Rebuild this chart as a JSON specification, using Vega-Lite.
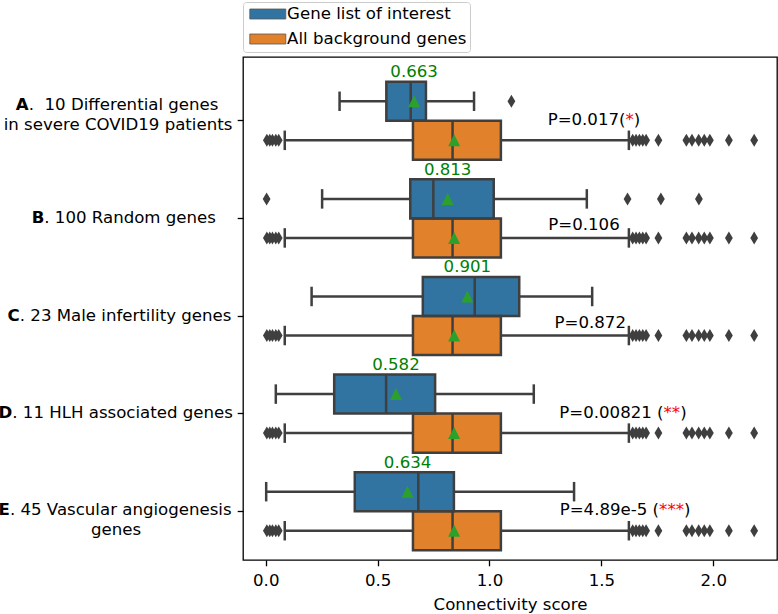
{
  "$schema": "https://vega.github.io/schema/vega-lite/v6.json",
  "width": 534,
  "height": 503,
  "autosize": {"type": "none"},
  "padding": {"left": 243, "top": 57, "right": 1, "bottom": 54},
  "background": "white",
  "config": {
    "font": "DejaVu Sans",
    "view": {"stroke": "black", "strokeWidth": 1.3},
    "axisX": {"grid": false, "domain": false, "tickColor": "black", "tickWidth": 1.3, "tickSize": 5.8, "tickCount": 5, "labelFlush": false, "labelFont": "DejaVu Sans", "labelFontSize": 16.6, "labelColor": "black", "labelPadding": 6.6, "titleFont": "DejaVu Sans", "titleFontSize": 16.6, "titleFontWeight": "normal", "titleColor": "black", "titlePadding": 7}
  },
  "datasets": {
    "boxes": [
      {"category": "A. \u00a010 Differential genes|in severe COVID19 patients", "group": "Gene list of interest", "lo": 0.330, "q1": 0.539, "med": 0.648, "q3": 0.716, "hi": 0.931, "mean": 0.663},
      {"category": "A. \u00a010 Differential genes|in severe COVID19 patients", "group": "All background genes", "lo": 0.085, "q1": 0.658, "med": 0.835, "q3": 1.051, "hi": 1.623, "mean": 0.842},
      {"category": "B. 100 Random genes", "group": "Gene list of interest", "lo": 0.252, "q1": 0.646, "med": 0.749, "q3": 1.019, "hi": 1.435, "mean": 0.813},
      {"category": "B. 100 Random genes", "group": "All background genes", "lo": 0.085, "q1": 0.658, "med": 0.835, "q3": 1.051, "hi": 1.623, "mean": 0.842},
      {"category": "C. 23 Male infertility genes", "group": "Gene list of interest", "lo": 0.205, "q1": 0.702, "med": 0.934, "q3": 1.133, "hi": 1.459, "mean": 0.901},
      {"category": "C. 23 Male infertility genes", "group": "All background genes", "lo": 0.085, "q1": 0.658, "med": 0.835, "q3": 1.051, "hi": 1.623, "mean": 0.842},
      {"category": "D. 11 HLH associated genes", "group": "Gene list of interest", "lo": 0.045, "q1": 0.306, "med": 0.538, "q3": 0.757, "hi": 1.198, "mean": 0.582},
      {"category": "D. 11 HLH associated genes", "group": "All background genes", "lo": 0.085, "q1": 0.658, "med": 0.835, "q3": 1.051, "hi": 1.623, "mean": 0.842},
      {"category": "E. 45 Vascular angiogenesis|genes", "group": "Gene list of interest", "lo": 0.002, "q1": 0.398, "med": 0.682, "q3": 0.841, "hi": 1.378, "mean": 0.634},
      {"category": "E. 45 Vascular angiogenesis|genes", "group": "All background genes", "lo": 0.085, "q1": 0.658, "med": 0.835, "q3": 1.051, "hi": 1.623, "mean": 0.842}
    ],
    "fliers": [
      {"category": "A. \u00a010 Differential genes|in severe COVID19 patients", "group": "Gene list of interest", "value": 1.098},
      {"category": "B. 100 Random genes", "group": "Gene list of interest", "value": 0.004},
      {"category": "B. 100 Random genes", "group": "Gene list of interest", "value": 1.617},
      {"category": "B. 100 Random genes", "group": "Gene list of interest", "value": 1.766},
      {"category": "B. 100 Random genes", "group": "Gene list of interest", "value": 1.936},
      {"category": "A. \u00a010 Differential genes|in severe COVID19 patients", "group": "All background genes", "value": 0.005},
      {"category": "A. \u00a010 Differential genes|in severe COVID19 patients", "group": "All background genes", "value": 0.018},
      {"category": "A. \u00a010 Differential genes|in severe COVID19 patients", "group": "All background genes", "value": 0.030},
      {"category": "A. \u00a010 Differential genes|in severe COVID19 patients", "group": "All background genes", "value": 0.045},
      {"category": "A. \u00a010 Differential genes|in severe COVID19 patients", "group": "All background genes", "value": 0.058},
      {"category": "A. \u00a010 Differential genes|in severe COVID19 patients", "group": "All background genes", "value": 1.640},
      {"category": "A. \u00a010 Differential genes|in severe COVID19 patients", "group": "All background genes", "value": 1.655},
      {"category": "A. \u00a010 Differential genes|in severe COVID19 patients", "group": "All background genes", "value": 1.670},
      {"category": "A. \u00a010 Differential genes|in severe COVID19 patients", "group": "All background genes", "value": 1.685},
      {"category": "A. \u00a010 Differential genes|in severe COVID19 patients", "group": "All background genes", "value": 1.700},
      {"category": "A. \u00a010 Differential genes|in severe COVID19 patients", "group": "All background genes", "value": 1.755},
      {"category": "A. \u00a010 Differential genes|in severe COVID19 patients", "group": "All background genes", "value": 1.880},
      {"category": "A. \u00a010 Differential genes|in severe COVID19 patients", "group": "All background genes", "value": 1.905},
      {"category": "A. \u00a010 Differential genes|in severe COVID19 patients", "group": "All background genes", "value": 1.935},
      {"category": "A. \u00a010 Differential genes|in severe COVID19 patients", "group": "All background genes", "value": 1.960},
      {"category": "A. \u00a010 Differential genes|in severe COVID19 patients", "group": "All background genes", "value": 1.985},
      {"category": "A. \u00a010 Differential genes|in severe COVID19 patients", "group": "All background genes", "value": 2.070},
      {"category": "A. \u00a010 Differential genes|in severe COVID19 patients", "group": "All background genes", "value": 2.183},
      {"category": "B. 100 Random genes", "group": "All background genes", "value": 0.005},
      {"category": "B. 100 Random genes", "group": "All background genes", "value": 0.018},
      {"category": "B. 100 Random genes", "group": "All background genes", "value": 0.030},
      {"category": "B. 100 Random genes", "group": "All background genes", "value": 0.045},
      {"category": "B. 100 Random genes", "group": "All background genes", "value": 0.058},
      {"category": "B. 100 Random genes", "group": "All background genes", "value": 1.640},
      {"category": "B. 100 Random genes", "group": "All background genes", "value": 1.655},
      {"category": "B. 100 Random genes", "group": "All background genes", "value": 1.670},
      {"category": "B. 100 Random genes", "group": "All background genes", "value": 1.685},
      {"category": "B. 100 Random genes", "group": "All background genes", "value": 1.700},
      {"category": "B. 100 Random genes", "group": "All background genes", "value": 1.755},
      {"category": "B. 100 Random genes", "group": "All background genes", "value": 1.880},
      {"category": "B. 100 Random genes", "group": "All background genes", "value": 1.905},
      {"category": "B. 100 Random genes", "group": "All background genes", "value": 1.935},
      {"category": "B. 100 Random genes", "group": "All background genes", "value": 1.960},
      {"category": "B. 100 Random genes", "group": "All background genes", "value": 1.985},
      {"category": "B. 100 Random genes", "group": "All background genes", "value": 2.070},
      {"category": "B. 100 Random genes", "group": "All background genes", "value": 2.183},
      {"category": "C. 23 Male infertility genes", "group": "All background genes", "value": 0.005},
      {"category": "C. 23 Male infertility genes", "group": "All background genes", "value": 0.018},
      {"category": "C. 23 Male infertility genes", "group": "All background genes", "value": 0.030},
      {"category": "C. 23 Male infertility genes", "group": "All background genes", "value": 0.045},
      {"category": "C. 23 Male infertility genes", "group": "All background genes", "value": 0.058},
      {"category": "C. 23 Male infertility genes", "group": "All background genes", "value": 1.640},
      {"category": "C. 23 Male infertility genes", "group": "All background genes", "value": 1.655},
      {"category": "C. 23 Male infertility genes", "group": "All background genes", "value": 1.670},
      {"category": "C. 23 Male infertility genes", "group": "All background genes", "value": 1.685},
      {"category": "C. 23 Male infertility genes", "group": "All background genes", "value": 1.700},
      {"category": "C. 23 Male infertility genes", "group": "All background genes", "value": 1.755},
      {"category": "C. 23 Male infertility genes", "group": "All background genes", "value": 1.880},
      {"category": "C. 23 Male infertility genes", "group": "All background genes", "value": 1.905},
      {"category": "C. 23 Male infertility genes", "group": "All background genes", "value": 1.935},
      {"category": "C. 23 Male infertility genes", "group": "All background genes", "value": 1.960},
      {"category": "C. 23 Male infertility genes", "group": "All background genes", "value": 1.985},
      {"category": "C. 23 Male infertility genes", "group": "All background genes", "value": 2.070},
      {"category": "C. 23 Male infertility genes", "group": "All background genes", "value": 2.183},
      {"category": "D. 11 HLH associated genes", "group": "All background genes", "value": 0.005},
      {"category": "D. 11 HLH associated genes", "group": "All background genes", "value": 0.018},
      {"category": "D. 11 HLH associated genes", "group": "All background genes", "value": 0.030},
      {"category": "D. 11 HLH associated genes", "group": "All background genes", "value": 0.045},
      {"category": "D. 11 HLH associated genes", "group": "All background genes", "value": 0.058},
      {"category": "D. 11 HLH associated genes", "group": "All background genes", "value": 1.640},
      {"category": "D. 11 HLH associated genes", "group": "All background genes", "value": 1.655},
      {"category": "D. 11 HLH associated genes", "group": "All background genes", "value": 1.670},
      {"category": "D. 11 HLH associated genes", "group": "All background genes", "value": 1.685},
      {"category": "D. 11 HLH associated genes", "group": "All background genes", "value": 1.700},
      {"category": "D. 11 HLH associated genes", "group": "All background genes", "value": 1.755},
      {"category": "D. 11 HLH associated genes", "group": "All background genes", "value": 1.880},
      {"category": "D. 11 HLH associated genes", "group": "All background genes", "value": 1.905},
      {"category": "D. 11 HLH associated genes", "group": "All background genes", "value": 1.935},
      {"category": "D. 11 HLH associated genes", "group": "All background genes", "value": 1.960},
      {"category": "D. 11 HLH associated genes", "group": "All background genes", "value": 1.985},
      {"category": "D. 11 HLH associated genes", "group": "All background genes", "value": 2.070},
      {"category": "D. 11 HLH associated genes", "group": "All background genes", "value": 2.183},
      {"category": "E. 45 Vascular angiogenesis|genes", "group": "All background genes", "value": 0.005},
      {"category": "E. 45 Vascular angiogenesis|genes", "group": "All background genes", "value": 0.018},
      {"category": "E. 45 Vascular angiogenesis|genes", "group": "All background genes", "value": 0.030},
      {"category": "E. 45 Vascular angiogenesis|genes", "group": "All background genes", "value": 0.045},
      {"category": "E. 45 Vascular angiogenesis|genes", "group": "All background genes", "value": 0.058},
      {"category": "E. 45 Vascular angiogenesis|genes", "group": "All background genes", "value": 1.640},
      {"category": "E. 45 Vascular angiogenesis|genes", "group": "All background genes", "value": 1.655},
      {"category": "E. 45 Vascular angiogenesis|genes", "group": "All background genes", "value": 1.670},
      {"category": "E. 45 Vascular angiogenesis|genes", "group": "All background genes", "value": 1.685},
      {"category": "E. 45 Vascular angiogenesis|genes", "group": "All background genes", "value": 1.700},
      {"category": "E. 45 Vascular angiogenesis|genes", "group": "All background genes", "value": 1.755},
      {"category": "E. 45 Vascular angiogenesis|genes", "group": "All background genes", "value": 1.880},
      {"category": "E. 45 Vascular angiogenesis|genes", "group": "All background genes", "value": 1.905},
      {"category": "E. 45 Vascular angiogenesis|genes", "group": "All background genes", "value": 1.935},
      {"category": "E. 45 Vascular angiogenesis|genes", "group": "All background genes", "value": 1.960},
      {"category": "E. 45 Vascular angiogenesis|genes", "group": "All background genes", "value": 1.985},
      {"category": "E. 45 Vascular angiogenesis|genes", "group": "All background genes", "value": 2.070},
      {"category": "E. 45 Vascular angiogenesis|genes", "group": "All background genes", "value": 2.183}
    ],
    "pvals": [
      {"category": "A. \u00a010 Differential genes|in severe COVID19 patients", "prefix": "P=0.017(", "stars": "*", "suffix": ")", "x": 1.608},
      {"category": "B. 100 Random genes", "prefix": "P=0.106", "stars": "", "suffix": "", "x": 1.582},
      {"category": "C. 23 Male infertility genes", "prefix": "P=0.872", "stars": "", "suffix": "", "x": 1.610},
      {"category": "D. 11 HLH associated genes", "prefix": "P=0.00821 (", "stars": "**", "suffix": ")", "x": 1.778},
      {"category": "E. 45 Vascular angiogenesis|genes", "prefix": "P=4.89e-5 (", "stars": "***", "suffix": ")", "x": 1.758}
    ]
  },
  "resolve": {"axis": {"y": "independent"}},
  "layer": [
    {
      "data": {"name": "boxes"},
      "mark": {"type": "rule", "color": "#3f3f3f", "strokeWidth": 2.5},
      "encoding": {
        "x": {"field": "lo", "type": "quantitative", "title": "Connectivity score", "scale": {"domain": [-0.1016, 2.285], "nice": false, "zero": false}},
        "x2": {"field": "hi"},
        "y": {"field": "category", "type": "nominal", "sort": null, "scale": {"domain": ["A. \u00a010 Differential genes|in severe COVID19 patients", "B. 100 Random genes", "C. 23 Male infertility genes", "D. 11 HLH associated genes", "E. 45 Vascular angiogenesis|genes"], "range": [15, 503], "paddingInner": 0, "paddingOuter": 0},
          "axis": {"orient": "left", "title": null, "labels": false, "ticks": true, "tickSize": 5.8, "tickWidth": 1.3, "tickColor": "black", "domain": false, "grid": false}},
        "yOffset": {"field": "group", "type": "nominal", "scale": {"domain": ["Gene list of interest", "All background genes"], "paddingInner": 0, "paddingOuter": 0.25}}
      }
    },
    {
      "data": {"name": "boxes"},
      "mark": {"type": "tick", "orient": "vertical", "color": "#3f3f3f", "size": 19.5, "thickness": 2.5, "opacity": 1},
      "encoding": {
        "x": {"field": "lo", "type": "quantitative", "title": "Connectivity score", "scale": {"domain": [-0.1016, 2.285], "nice": false, "zero": false}},
        "y": {"field": "category", "type": "nominal", "sort": null, "scale": {"domain": ["A. \u00a010 Differential genes|in severe COVID19 patients", "B. 100 Random genes", "C. 23 Male infertility genes", "D. 11 HLH associated genes", "E. 45 Vascular angiogenesis|genes"], "range": [15, 503], "paddingInner": 0, "paddingOuter": 0},
          "axis": {"orient": "left", "title": null, "domain": false, "ticks": false, "tickSize": 0, "grid": false, "labelOverlap": false, "labelLimit": 400, "labelFont": "DejaVu Sans", "labelFontSize": 16.6, "labelColor": "black", "labelFontWeight": "bold", "labelAlign": "right", "labelBaseline": "alphabetic",
            "labelExpr": "substring(datum.value, 0, 1)",
            "labelPadding": {"expr": "substring(datum.value,0,1)=='A' ? 214.8 : substring(datum.value,0,1)=='B' ? 199.2 : substring(datum.value,0,1)=='C' ? 223.7 : substring(datum.value,0,1)=='D' ? 231.2 : 233.6"},
            "labelOffset": {"expr": "substring(datum.value,0,1)=='A' ? -11 : substring(datum.value,0,1)=='E' ? 3.5 : 4.5"}}},
        "yOffset": {"field": "group", "type": "nominal", "scale": {"domain": ["Gene list of interest", "All background genes"], "paddingInner": 0, "paddingOuter": 0.25}}
      }
    },
    {
      "data": {"name": "boxes"},
      "mark": {"type": "tick", "orient": "vertical", "color": "#3f3f3f", "size": 19.5, "thickness": 2.5, "opacity": 1},
      "encoding": {
        "x": {"field": "hi", "type": "quantitative", "title": "Connectivity score", "scale": {"domain": [-0.1016, 2.285], "nice": false, "zero": false}},
        "y": {"field": "category", "type": "nominal", "sort": null, "scale": {"domain": ["A. \u00a010 Differential genes|in severe COVID19 patients", "B. 100 Random genes", "C. 23 Male infertility genes", "D. 11 HLH associated genes", "E. 45 Vascular angiogenesis|genes"], "range": [15, 503], "paddingInner": 0, "paddingOuter": 0},
          "axis": {"orient": "left", "title": null, "domain": false, "ticks": false, "tickSize": 0, "grid": false, "labelOverlap": false, "labelLimit": 400, "labelFont": "DejaVu Sans", "labelFontSize": 16.6, "labelColor": "black", "labelAlign": "left", "labelBaseline": "alphabetic",
            "labelExpr": "substring(split(datum.value, '|')[0], 1)",
            "labelPadding": {"expr": "substring(datum.value,0,1)=='A' ? 214.8 : substring(datum.value,0,1)=='B' ? 199.2 : substring(datum.value,0,1)=='C' ? 223.7 : substring(datum.value,0,1)=='D' ? 231.2 : 233.6"},
            "labelOffset": {"expr": "substring(datum.value,0,1)=='A' ? -11 : substring(datum.value,0,1)=='E' ? 3.5 : 4.5"}}},
        "yOffset": {"field": "group", "type": "nominal", "scale": {"domain": ["Gene list of interest", "All background genes"], "paddingInner": 0, "paddingOuter": 0.25}}
      }
    },
    {
      "data": {"name": "boxes"},
      "mark": {"type": "bar", "opacity": 1},
      "encoding": {
        "x": {"field": "q1", "type": "quantitative", "title": "Connectivity score", "scale": {"domain": [-0.1016, 2.285], "nice": false, "zero": false}},
        "x2": {"field": "q3"},
        "y": {"field": "category", "type": "nominal", "sort": null, "scale": {"domain": ["A. \u00a010 Differential genes|in severe COVID19 patients", "B. 100 Random genes", "C. 23 Male infertility genes", "D. 11 HLH associated genes", "E. 45 Vascular angiogenesis|genes"], "range": [15, 503], "paddingInner": 0, "paddingOuter": 0},
          "axis": {"orient": "left", "title": null, "domain": false, "ticks": false, "tickSize": 0, "grid": false, "labelOverlap": false, "labelLimit": 400, "labelFont": "DejaVu Sans", "labelFontSize": 16.6, "labelColor": "black", "labelAlign": "center", "labelBaseline": "alphabetic",
            "labelExpr": "indexof(datum.value, '|') >= 0 ? split(datum.value, '|')[1] : ''",
            "labelPadding": {"expr": "substring(datum.value,0,1)=='A' ? 125.5 : 127.5"},
            "labelOffset": {"expr": "substring(datum.value,0,1)=='A' ? 9 : 23.5"}}},
        "yOffset": {"field": "group", "type": "nominal", "scale": {"domain": ["Gene list of interest", "All background genes"], "paddingInner": 0, "paddingOuter": 0.25}},
        "color": {"field": "group", "type": "nominal", "scale": {"domain": ["Gene list of interest", "All background genes"], "range": ["#3274a1", "#e1812c"]},
          "legend": {"orient": "none", "legendX": 0, "legendY": -55, "title": null, "direction": "vertical", "symbolType": "M-2.25,-0.625H2.25V0.625H-2.25Z", "symbolSize": 256, "symbolStrokeWidth": 0.8, "symbolStrokeColor": "#555555", "symbolOpacity": 1, "labelFont": "DejaVu Sans", "labelFontSize": 16.6, "labelColor": "black", "labelLimit": 400, "padding": 3.5, "rowPadding": 7, "symbolOffset": 12.8, "labelOffset": 10.8, "strokeColor": "#cccccc", "fillColor": "white", "cornerRadius": 3}}
      }
    },
    {
      "data": {"name": "boxes"},
      "mark": {"type": "bar", "filled": false, "color": "#3f3f3f", "strokeWidth": 2.5, "opacity": 1},
      "encoding": {
        "x": {"field": "q1", "type": "quantitative", "title": "Connectivity score", "scale": {"domain": [-0.1016, 2.285], "nice": false, "zero": false}},
        "x2": {"field": "q3"},
        "y": {"field": "category", "type": "nominal", "sort": null, "scale": {"domain": ["A. \u00a010 Differential genes|in severe COVID19 patients", "B. 100 Random genes", "C. 23 Male infertility genes", "D. 11 HLH associated genes", "E. 45 Vascular angiogenesis|genes"], "range": [15, 503], "paddingInner": 0, "paddingOuter": 0}, "axis": null},
        "yOffset": {"field": "group", "type": "nominal", "scale": {"domain": ["Gene list of interest", "All background genes"], "paddingInner": 0, "paddingOuter": 0.25}}
      }
    },
    {
      "data": {"name": "boxes"},
      "mark": {"type": "tick", "orient": "vertical", "color": "#3f3f3f", "size": 39, "thickness": 2.5, "opacity": 1},
      "encoding": {
        "x": {"field": "med", "type": "quantitative", "title": "Connectivity score", "scale": {"domain": [-0.1016, 2.285], "nice": false, "zero": false}},
        "y": {"field": "category", "type": "nominal", "sort": null, "scale": {"domain": ["A. \u00a010 Differential genes|in severe COVID19 patients", "B. 100 Random genes", "C. 23 Male infertility genes", "D. 11 HLH associated genes", "E. 45 Vascular angiogenesis|genes"], "range": [15, 503], "paddingInner": 0, "paddingOuter": 0}, "axis": null},
        "yOffset": {"field": "group", "type": "nominal", "scale": {"domain": ["Gene list of interest", "All background genes"], "paddingInner": 0, "paddingOuter": 0.25}}
      }
    },
    {
      "data": {"name": "boxes"},
      "mark": {"type": "point", "shape": "M0,-1L1,1L-1,1Z", "filled": true, "color": "#2ca02c", "size": 144, "opacity": 1, "strokeWidth": 0},
      "encoding": {
        "x": {"field": "mean", "type": "quantitative", "title": "Connectivity score", "scale": {"domain": [-0.1016, 2.285], "nice": false, "zero": false}},
        "y": {"field": "category", "type": "nominal", "sort": null, "scale": {"domain": ["A. \u00a010 Differential genes|in severe COVID19 patients", "B. 100 Random genes", "C. 23 Male infertility genes", "D. 11 HLH associated genes", "E. 45 Vascular angiogenesis|genes"], "range": [15, 503], "paddingInner": 0, "paddingOuter": 0}, "axis": null},
        "yOffset": {"field": "group", "type": "nominal", "scale": {"domain": ["Gene list of interest", "All background genes"], "paddingInner": 0, "paddingOuter": 0.25}}
      }
    },
    {
      "data": {"name": "fliers"},
      "mark": {"type": "point", "shape": "M0,-1L0.6,0L0,1L-0.6,0Z", "filled": true, "color": "#3f3f3f", "size": 169, "opacity": 1, "strokeWidth": 0},
      "encoding": {
        "x": {"field": "value", "type": "quantitative", "title": "Connectivity score", "scale": {"domain": [-0.1016, 2.285], "nice": false, "zero": false}},
        "y": {"field": "category", "type": "nominal", "sort": null, "scale": {"domain": ["A. \u00a010 Differential genes|in severe COVID19 patients", "B. 100 Random genes", "C. 23 Male infertility genes", "D. 11 HLH associated genes", "E. 45 Vascular angiogenesis|genes"], "range": [15, 503], "paddingInner": 0, "paddingOuter": 0}, "axis": null},
        "yOffset": {"field": "group", "type": "nominal", "scale": {"domain": ["Gene list of interest", "All background genes"], "paddingInner": 0, "paddingOuter": 0.25}}
      }
    },
    {
      "data": {"name": "boxes"},
      "transform": [{"filter": "datum.group == 'Gene list of interest'"}],
      "mark": {"type": "text", "font": "DejaVu Sans", "fontSize": 16.6, "color": "#008000", "align": "center", "baseline": "alphabetic", "dy": -24},
      "encoding": {
        "x": {"field": "mean", "type": "quantitative", "title": "Connectivity score", "scale": {"domain": [-0.1016, 2.285], "nice": false, "zero": false}},
        "y": {"field": "category", "type": "nominal", "sort": null, "scale": {"domain": ["A. \u00a010 Differential genes|in severe COVID19 patients", "B. 100 Random genes", "C. 23 Male infertility genes", "D. 11 HLH associated genes", "E. 45 Vascular angiogenesis|genes"], "range": [15, 503], "paddingInner": 0, "paddingOuter": 0}, "axis": null},
        "yOffset": {"field": "group", "type": "nominal", "scale": {"domain": ["Gene list of interest", "All background genes"], "paddingInner": 0, "paddingOuter": 0.25}},
        "text": {"field": "mean", "type": "quantitative", "format": ".3f"}
      }
    },
    {
      "data": {"name": "pvals"},
      "transform": [{"filter": "datum.stars != ''"}],
      "mark": {"type": "text", "font": "DejaVu Sans", "fontSize": 16.6, "color": "black", "align": "right", "baseline": "alphabetic", "dy": 4},
      "encoding": {
        "x": {"field": "x", "type": "quantitative", "title": "Connectivity score", "scale": {"domain": [-0.1016, 2.285], "nice": false, "zero": false}},
        "y": {"field": "category", "type": "nominal", "sort": null, "scale": {"domain": ["A. \u00a010 Differential genes|in severe COVID19 patients", "B. 100 Random genes", "C. 23 Male infertility genes", "D. 11 HLH associated genes", "E. 45 Vascular angiogenesis|genes"], "range": [15, 503], "paddingInner": 0, "paddingOuter": 0}, "axis": null},
        "text": {"field": "prefix"}
      }
    },
    {
      "data": {"name": "pvals"},
      "transform": [{"filter": "datum.stars == ''"}],
      "mark": {"type": "text", "font": "DejaVu Sans", "fontSize": 16.6, "color": "black", "align": "right", "baseline": "alphabetic", "dy": 11.5},
      "encoding": {
        "x": {"field": "x", "type": "quantitative", "title": "Connectivity score", "scale": {"domain": [-0.1016, 2.285], "nice": false, "zero": false}},
        "y": {"field": "category", "type": "nominal", "sort": null, "scale": {"domain": ["A. \u00a010 Differential genes|in severe COVID19 patients", "B. 100 Random genes", "C. 23 Male infertility genes", "D. 11 HLH associated genes", "E. 45 Vascular angiogenesis|genes"], "range": [15, 503], "paddingInner": 0, "paddingOuter": 0}, "axis": null},
        "text": {"field": "prefix"}
      }
    },
    {
      "data": {"name": "pvals"},
      "transform": [{"filter": "datum.stars != ''"}],
      "mark": {"type": "text", "font": "DejaVu Sans", "fontSize": 16.6, "color": "#ff0000", "align": "left", "baseline": "alphabetic", "dy": 4},
      "encoding": {
        "x": {"field": "x", "type": "quantitative", "title": "Connectivity score", "scale": {"domain": [-0.1016, 2.285], "nice": false, "zero": false}},
        "y": {"field": "category", "type": "nominal", "sort": null, "scale": {"domain": ["A. \u00a010 Differential genes|in severe COVID19 patients", "B. 100 Random genes", "C. 23 Male infertility genes", "D. 11 HLH associated genes", "E. 45 Vascular angiogenesis|genes"], "range": [15, 503], "paddingInner": 0, "paddingOuter": 0}, "axis": null},
        "text": {"field": "stars"}
      }
    },
    {
      "data": {"name": "pvals"},
      "transform": [{"filter": "datum.stars == '*'"}],
      "mark": {"type": "text", "font": "DejaVu Sans", "fontSize": 16.6, "color": "black", "align": "left", "baseline": "alphabetic", "dy": 4, "dx": 8.3},
      "encoding": {
        "x": {"field": "x", "type": "quantitative", "title": "Connectivity score", "scale": {"domain": [-0.1016, 2.285], "nice": false, "zero": false}},
        "y": {"field": "category", "type": "nominal", "sort": null, "scale": {"domain": ["A. \u00a010 Differential genes|in severe COVID19 patients", "B. 100 Random genes", "C. 23 Male infertility genes", "D. 11 HLH associated genes", "E. 45 Vascular angiogenesis|genes"], "range": [15, 503], "paddingInner": 0, "paddingOuter": 0}, "axis": null},
        "text": {"field": "suffix"}
      }
    },
    {
      "data": {"name": "pvals"},
      "transform": [{"filter": "datum.stars == '**'"}],
      "mark": {"type": "text", "font": "DejaVu Sans", "fontSize": 16.6, "color": "black", "align": "left", "baseline": "alphabetic", "dy": 4, "dx": 16.6},
      "encoding": {
        "x": {"field": "x", "type": "quantitative", "title": "Connectivity score", "scale": {"domain": [-0.1016, 2.285], "nice": false, "zero": false}},
        "y": {"field": "category", "type": "nominal", "sort": null, "scale": {"domain": ["A. \u00a010 Differential genes|in severe COVID19 patients", "B. 100 Random genes", "C. 23 Male infertility genes", "D. 11 HLH associated genes", "E. 45 Vascular angiogenesis|genes"], "range": [15, 503], "paddingInner": 0, "paddingOuter": 0}, "axis": null},
        "text": {"field": "suffix"}
      }
    },
    {
      "data": {"name": "pvals"},
      "transform": [{"filter": "datum.stars == '***'"}],
      "mark": {"type": "text", "font": "DejaVu Sans", "fontSize": 16.6, "color": "black", "align": "left", "baseline": "alphabetic", "dy": 4, "dx": 24.9},
      "encoding": {
        "x": {"field": "x", "type": "quantitative", "title": "Connectivity score", "scale": {"domain": [-0.1016, 2.285], "nice": false, "zero": false}},
        "y": {"field": "category", "type": "nominal", "sort": null, "scale": {"domain": ["A. \u00a010 Differential genes|in severe COVID19 patients", "B. 100 Random genes", "C. 23 Male infertility genes", "D. 11 HLH associated genes", "E. 45 Vascular angiogenesis|genes"], "range": [15, 503], "paddingInner": 0, "paddingOuter": 0}, "axis": null},
        "text": {"field": "suffix"}
      }
    }
  ]
}
